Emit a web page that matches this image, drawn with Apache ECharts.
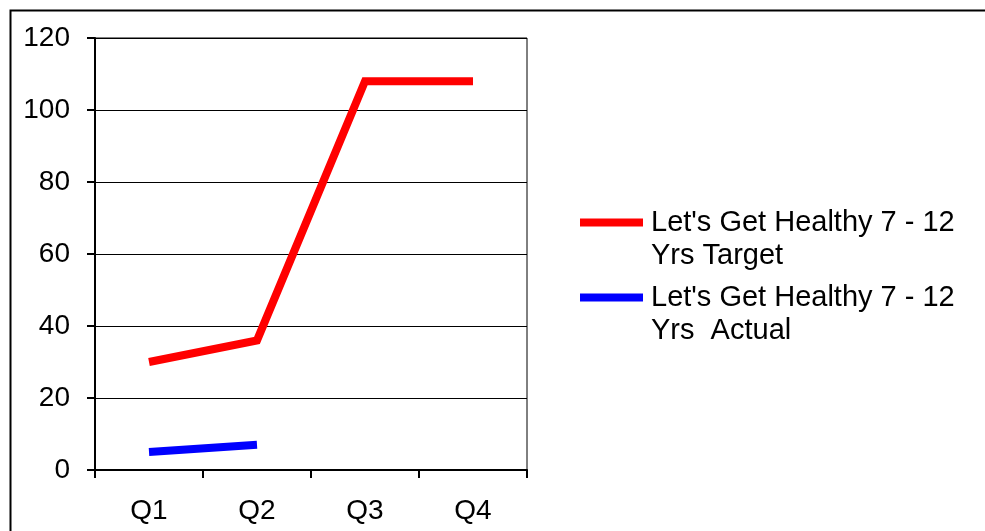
<!DOCTYPE html>
<html>
<head>
<meta charset="utf-8">
<script src="https://cdn.jsdelivr.net/npm/echarts@6/dist/echarts.min.js"></script>
<style>
  html, body { margin: 0; padding: 0; background: #fff; }
  #chart { width: 985px; height: 531px; }
</style>
</head>
<body>
<div id="chart"></div>
<script>
// quarters on the x axis
var quarters = ['Q1', 'Q2', 'Q3', 'Q4']
var targetName = "Let's Get Healthy 7 - 12 Yrs Target"
var actualName = "Let's Get Healthy 7 - 12 Yrs  Actual"
var targetData = [30, 36, 108, 108]
var actualData = [5, 7, null, null]

var font = 'Liberation Sans, Arial, sans-serif'

// one legend per series so the icon sits on the first text line
function legendBlock(name, color, top) {
  return {
    data: [{ name: name, icon: 'rect', itemStyle: { color: color } }],
    left: 580,
    top: top,
    itemWidth: 63,
    itemHeight: 8,
    padding: 0,
    selectedMode: false,
    formatter: function (n) {
      // empty first line keeps the block centred on line one
      return ' \n' + n.replace(' Yrs', '\nYrs')
    },
    textStyle: {
      fontFamily: font,
      fontSize: 29,
      color: '#000',
      lineHeight: 33,
      padding: [0, 0, 0, 3]
    }
  }
}

var chart = echarts.init(document.getElementById('chart'))
chart.setOption({
  animation: false,
  backgroundColor: '#fff',
  graphic: [
    {
      type: 'rect',
      left: 8,
      top: 8,
      shape: { width: 1100, height: 700 },
      style: { fill: 'none', stroke: '#000', lineWidth: 2 },
      silent: true
    }
  ],
  legend: [
    legendBlock(targetName, '#ff0000', 173),
    legendBlock(actualName, '#0000ff', 248)
  ],
  grid: {
    left: 95,
    right: 458,
    top: 38,
    bottom: 61,
    show: true,
    borderColor: '#000',
    borderWidth: 1
  },
  xAxis: {
    type: 'category',
    data: quarters,
    boundaryGap: true,
    axisLine: { lineStyle: { color: '#000', width: 2 } },
    axisTick: { show: true, inside: false, length: 8, lineStyle: { color: '#000', width: 2 } },
    axisLabel: { color: '#000', fontFamily: font, fontSize: 28, margin: 27 }
  },
  yAxis: {
    type: 'value',
    min: 0,
    max: 120,
    interval: 20,
    axisLine: { show: true, lineStyle: { color: '#000', width: 2 } },
    axisTick: { show: true, inside: false, length: 8, lineStyle: { color: '#000', width: 2 } },
    splitLine: { show: true, lineStyle: { color: '#000', width: 1 } },
    axisLabel: { color: '#000', fontFamily: font, fontSize: 28, margin: 25 }
  },
  series: [
    {
      name: targetName,
      type: 'line',
      data: targetData,
      showSymbol: false,
      symbol: 'none',
      color: '#ff0000',
      lineStyle: { color: '#ff0000', width: 8, cap: 'butt', join: 'miter' }
    },
    {
      name: actualName,
      type: 'line',
      data: actualData,
      showSymbol: false,
      symbol: 'none',
      color: '#0000ff',
      lineStyle: { color: '#0000ff', width: 8, cap: 'butt', join: 'miter' }
    }
  ]
})
</script>
</body>
</html>
